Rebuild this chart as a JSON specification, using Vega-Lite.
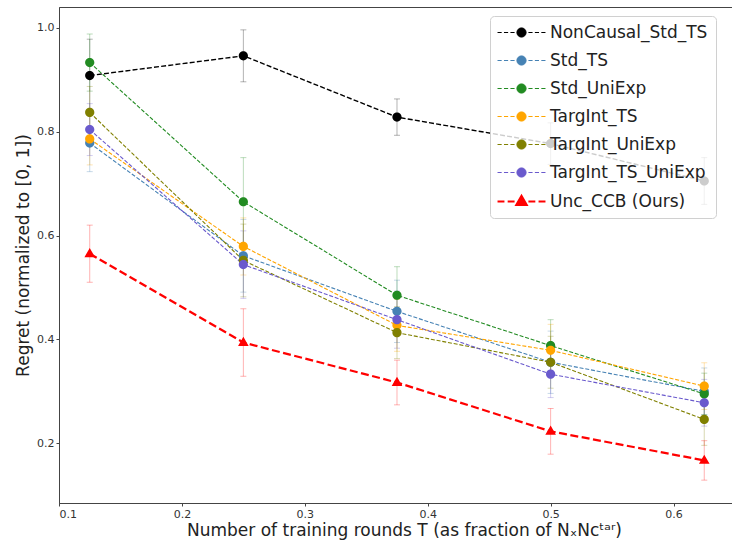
{
  "$schema": "https://vega.github.io/schema/vega-lite/v6.json",
  "autosize": "none",
  "width": 690,
  "height": 496,
  "padding": {"left": 59, "top": 7, "right": 0, "bottom": 39},
  "background": "white",
  "config": {
    "font": "DejaVu Sans",
    "view": {"stroke": "#444", "strokeWidth": 1},
    "axis": {"grid": false, "domainColor": "#444", "tickColor": "#444", "labelColor": "#333", "labelFontSize": 11, "titleFontSize": 17, "titleFontWeight": "normal", "titleColor": "#222", "tickSize": 3, "labelPadding": 2, "labelFont": "DejaVu Sans", "titleFont": "DejaVu Sans"},
    "legend": {"symbolSize": 85}
  },
  "resolve": {"legend": {"color": "independent", "shape": "independent", "stroke": "independent"}},
  "data": {"values": [
    {"series": "NonCausal_Std_TS", "x": 0.125, "y": 0.908, "lo": 0.838, "hi": 0.978},
    {"series": "NonCausal_Std_TS", "x": 0.25, "y": 0.946, "lo": 0.896, "hi": 0.996},
    {"series": "NonCausal_Std_TS", "x": 0.375, "y": 0.828, "lo": 0.793, "hi": 0.863},
    {"series": "NonCausal_Std_TS", "x": 0.5, "y": 0.777, "lo": 0.737, "hi": 0.817},
    {"series": "NonCausal_Std_TS", "x": 0.625, "y": 0.705, "lo": 0.66, "hi": 0.75},
    {"series": "Std_TS", "x": 0.125, "y": 0.778, "lo": 0.723, "hi": 0.833},
    {"series": "Std_TS", "x": 0.25, "y": 0.561, "lo": 0.491, "hi": 0.631},
    {"series": "Std_TS", "x": 0.375, "y": 0.454, "lo": 0.394, "hi": 0.514},
    {"series": "Std_TS", "x": 0.5, "y": 0.356, "lo": 0.296, "hi": 0.416},
    {"series": "Std_TS", "x": 0.625, "y": 0.3, "lo": 0.255, "hi": 0.345},
    {"series": "Std_UniExp", "x": 0.125, "y": 0.933, "lo": 0.878, "hi": 0.988},
    {"series": "Std_UniExp", "x": 0.25, "y": 0.665, "lo": 0.58, "hi": 0.75},
    {"series": "Std_UniExp", "x": 0.375, "y": 0.485, "lo": 0.43, "hi": 0.54},
    {"series": "Std_UniExp", "x": 0.5, "y": 0.388, "lo": 0.338, "hi": 0.438},
    {"series": "Std_UniExp", "x": 0.625, "y": 0.295, "lo": 0.255, "hi": 0.335},
    {"series": "TargInt_TS", "x": 0.125, "y": 0.786, "lo": 0.736, "hi": 0.836},
    {"series": "TargInt_TS", "x": 0.25, "y": 0.579, "lo": 0.524, "hi": 0.634},
    {"series": "TargInt_TS", "x": 0.375, "y": 0.427, "lo": 0.377, "hi": 0.477},
    {"series": "TargInt_TS", "x": 0.5, "y": 0.379, "lo": 0.329, "hi": 0.429},
    {"series": "TargInt_TS", "x": 0.625, "y": 0.31, "lo": 0.265, "hi": 0.355},
    {"series": "TargInt_UniExp", "x": 0.125, "y": 0.837, "lo": 0.787, "hi": 0.887},
    {"series": "TargInt_UniExp", "x": 0.25, "y": 0.552, "lo": 0.482, "hi": 0.622},
    {"series": "TargInt_UniExp", "x": 0.375, "y": 0.413, "lo": 0.363, "hi": 0.463},
    {"series": "TargInt_UniExp", "x": 0.5, "y": 0.356, "lo": 0.306, "hi": 0.406},
    {"series": "TargInt_UniExp", "x": 0.625, "y": 0.246, "lo": 0.196, "hi": 0.296},
    {"series": "TargInt_TS_UniExp", "x": 0.125, "y": 0.804, "lo": 0.754, "hi": 0.854},
    {"series": "TargInt_TS_UniExp", "x": 0.25, "y": 0.544, "lo": 0.479, "hi": 0.609},
    {"series": "TargInt_TS_UniExp", "x": 0.375, "y": 0.438, "lo": 0.383, "hi": 0.493},
    {"series": "TargInt_TS_UniExp", "x": 0.5, "y": 0.333, "lo": 0.288, "hi": 0.378},
    {"series": "TargInt_TS_UniExp", "x": 0.625, "y": 0.278, "lo": 0.233, "hi": 0.323},
    {"series": "Unc_CCB (Ours)", "x": 0.125, "y": 0.565, "lo": 0.51, "hi": 0.62},
    {"series": "Unc_CCB (Ours)", "x": 0.25, "y": 0.394, "lo": 0.329, "hi": 0.459},
    {"series": "Unc_CCB (Ours)", "x": 0.375, "y": 0.317, "lo": 0.274, "hi": 0.36},
    {"series": "Unc_CCB (Ours)", "x": 0.5, "y": 0.223, "lo": 0.179, "hi": 0.267},
    {"series": "Unc_CCB (Ours)", "x": 0.625, "y": 0.167, "lo": 0.129, "hi": 0.205}
  ]},
  "encoding": {
    "x": {"field": "x", "type": "quantitative", "scale": {"domain": [0.1, 0.6614], "nice": false, "zero": false},
      "axis": {"values": [0.1, 0.2, 0.3, 0.4, 0.5, 0.6], "format": ".1f", "title": "Number of training rounds T (as fraction of NₓNᴄᵗᵃʳ)", "titlePadding": 3}}
  },
  "layer": [
    {
      "mark": {"type": "errorbar", "ticks": {"size": 6, "opacity": 0.3}, "rule": {"opacity": 0.3}, "thickness": 1},
      "encoding": {
        "y": {"field": "lo", "type": "quantitative", "scale": {"domain": [0.085, 1.04], "nice": false, "zero": false}, "title": "Regret (normalized to [0, 1])"},
        "y2": {"field": "hi"},
        "color": {"field": "series", "type": "nominal", "legend": null,
          "scale": {"domain": ["NonCausal_Std_TS", "Std_TS", "Std_UniExp", "TargInt_TS", "TargInt_UniExp", "TargInt_TS_UniExp", "Unc_CCB (Ours)"],
            "range": ["#000000", "#4682b4", "#228b22", "#ffa500", "#808000", "#6a5acd", "#ff0000"]}}
      }
    },
    {
      "mark": {"type": "line"},
      "encoding": {
        "y": {"field": "y", "type": "quantitative"},
        "color": {"field": "series", "type": "nominal", "legend": null},
        "strokeWidth": {"condition": [{"test": "datum.series === 'Unc_CCB (Ours)'", "value": 2.2}, {"test": "datum.series === 'NonCausal_Std_TS'", "value": 1.4}], "value": 1.1},
        "strokeDash": {"condition": [{"test": "datum.series === 'Unc_CCB (Ours)'", "value": [8, 3.5]}, {"test": "datum.series === 'NonCausal_Std_TS'", "value": [5, 2.2]}], "value": [4, 1.8]}
      }
    },
    {
      "mark": {"type": "point", "filled": true, "opacity": 1, "size": 85},
      "encoding": {
        "y": {"field": "y", "type": "quantitative",
          "axis": {"values": [0.2, 0.4, 0.6, 0.8, 1.0], "format": ".1f", "title": "Regret (normalized to [0, 1])", "titlePadding": 4}},
        "strokeWidth": {"value": 0},
        "color": {"field": "series", "type": "nominal",
          "legend": {"title": null, "orient": "none", "legendX": 431, "legendY": 9, "padding": 8, "rowPadding": 10,
            "labelFontSize": 17, "labelColor": "#222", "labelFont": "DejaVu Sans", "labelLimit": 300,
            "fillColor": "rgba(255,255,255,0.8)", "strokeColor": "#d0d0d0", "cornerRadius": 4,
            "symbolOffset": 15, "labelOffset": 20,
            "symbolStrokeWidth": {"expr": "datum.value === 'Unc_CCB (Ours)' ? 2 : 1"}}},
        "stroke": {"field": "series", "type": "nominal",
          "scale": {"domain": ["NonCausal_Std_TS", "Std_TS", "Std_UniExp", "TargInt_TS", "TargInt_UniExp", "TargInt_TS_UniExp", "Unc_CCB (Ours)"],
            "range": ["#000000", "#4682b4", "#228b22", "#ffa500", "#808000", "#6a5acd", "#ff0000"]},
          "legend": {"title": null, "orient": "none", "legendX": 431, "legendY": 9, "padding": 8, "rowPadding": 10,
            "labelFontSize": 17, "labelColor": "#222", "labelFont": "DejaVu Sans", "labelLimit": 300,
            "fillColor": "rgba(255,255,255,0.8)", "strokeColor": "#d0d0d0", "cornerRadius": 4,
            "symbolOffset": 15, "labelOffset": 20,
            "symbolStrokeWidth": {"expr": "datum.value === 'Unc_CCB (Ours)' ? 2 : 1"}}},
        "shape": {"field": "series", "type": "nominal",
          "scale": {"domain": ["NonCausal_Std_TS", "Std_TS", "Std_UniExp", "TargInt_TS", "TargInt_UniExp", "TargInt_TS_UniExp", "Unc_CCB (Ours)"],
            "range": [
              "M-1,0A1,1,0,1,1,1,0A1,1,0,1,1,-1,0ZM-5.2,0H-4.3M-3.8,0H-2.9M-2.4,0H-1.5M1.5,0H2.4M2.9,0H3.8M4.3,0H5.2",
              "M-1,0A1,1,0,1,1,1,0A1,1,0,1,1,-1,0ZM-5.2,0H-4.3M-3.8,0H-2.9M-2.4,0H-1.5M1.5,0H2.4M2.9,0H3.8M4.3,0H5.2",
              "M-1,0A1,1,0,1,1,1,0A1,1,0,1,1,-1,0ZM-5.2,0H-4.3M-3.8,0H-2.9M-2.4,0H-1.5M1.5,0H2.4M2.9,0H3.8M4.3,0H5.2",
              "M-1,0A1,1,0,1,1,1,0A1,1,0,1,1,-1,0ZM-5.2,0H-4.3M-3.8,0H-2.9M-2.4,0H-1.5M1.5,0H2.4M2.9,0H3.8M4.3,0H5.2",
              "M-1,0A1,1,0,1,1,1,0A1,1,0,1,1,-1,0ZM-5.2,0H-4.3M-3.8,0H-2.9M-2.4,0H-1.5M1.5,0H2.4M2.9,0H3.8M4.3,0H5.2",
              "M-1,0A1,1,0,1,1,1,0A1,1,0,1,1,-1,0ZM-5.2,0H-4.3M-3.8,0H-2.9M-2.4,0H-1.5M1.5,0H2.4M2.9,0H3.8M4.3,0H5.2",
              "M0,-1.25L1.15,0.75L-1.15,0.75ZM-5.2,0H-3.7M-3,0H-1.5M1.5,0H3M3.7,0H5.2"
            ]},
          "legend": {"title": null, "orient": "none", "legendX": 431, "legendY": 9, "padding": 8, "rowPadding": 10,
            "labelFontSize": 17, "labelColor": "#222", "labelFont": "DejaVu Sans", "labelLimit": 300,
            "fillColor": "rgba(255,255,255,0.8)", "strokeColor": "#d0d0d0", "cornerRadius": 4,
            "symbolOffset": 15, "labelOffset": 20,
            "symbolStrokeWidth": {"expr": "datum.value === 'Unc_CCB (Ours)' ? 2 : 1"}}}
      }
    }
  ]
}
